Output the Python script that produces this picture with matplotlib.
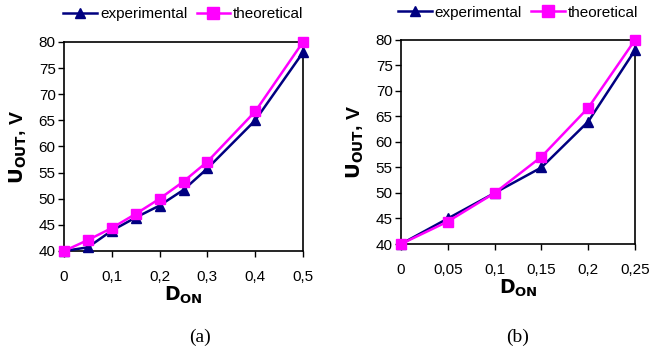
import matplotlib.pyplot as plt
import numpy as np

plt.rcParams['font.family'] = ['Liberation Sans', 'DejaVu Sans']

# (a)
d_a = [0, 0.05, 0.1, 0.15, 0.2, 0.25, 0.3, 0.4, 0.5]
exp_a = [40, 40.7, 43.9, 46.4, 48.7, 51.7, 55.8, 65, 78]
theo_a = [40, 42.1, 44.4, 47.1, 50, 53.3, 57.1, 66.7, 80]
xt_a = [0, 0.1, 0.2, 0.3, 0.4, 0.5]

# (b)
d_b = [0, 0.05, 0.1, 0.15, 0.2, 0.25]
exp_b = [40, 45, 50, 55, 64, 78]
theo_b = [40, 44.4, 50, 57.1, 66.7, 80]
xt_b = [0, 0.05, 0.1, 0.15, 0.2, 0.25]

yt = [40, 45, 50, 55, 60, 65, 70, 75, 80]

fig = plt.figure(figsize=(6.51, 3.49), dpi=100)
W, H = 651, 349
boxes = [(64, 42, 303, 251), (401, 40, 635, 244)]
sets = [(d_a, exp_a, theo_a, xt_a, '(a)', 200),
        (d_b, exp_b, theo_b, xt_b, '(b)', 518)]

def lab(v):
    s = ('%g' % v).replace('.', ',')
    return s

for (x0, y0, x1, y1), (d, e, t, xt, cap, cx) in zip(boxes, sets):
    ax = fig.add_axes([x0 / W, 1 - y1 / H, (x1 - x0) / W, (y1 - y0) / H])
    p1, = ax.plot(d, e, '-', color='#000080', lw=1.8, marker='^', ms=7,
                  label='experimental', clip_on=False, zorder=3)
    p2, = ax.plot(d, t, '-', color='#FF00FF', lw=1.8, marker='s', ms=7.5,
                  label='theoretical', clip_on=False, zorder=4)
    ax.set_xlim(d[0], d[-1])
    ax.set_ylim(40, 80)
    ax.set_xticks(xt)
    ax.set_xticklabels([lab(v) for v in xt])
    ax.set_yticks(yt)
    ax.tick_params(labelsize=11, length=4, width=1, direction='out', pad=2)
    ax.tick_params(axis='x', pad=10)
    for s in ax.spines.values():
        s.set_linewidth(1.2)
    ax.set_xlabel(r'$\mathbf{D_{ON}}$', fontsize=13.5, labelpad=0)
    ax.set_ylabel(r'$\mathbf{U_{OUT}}$, V', fontsize=14, fontweight='bold', labelpad=7)
    ax.legend(handles=[p1, p2], loc='lower center', bbox_to_anchor=(0.5, 1.07),
              ncol=2, frameon=False, fontsize=11, handlelength=2.2, markerscale=1.1,
              columnspacing=0.6, handletextpad=0.2, borderaxespad=0)
    fig.text(cx / W, 1 - 337 / H, cap, ha='center', va='center',
             fontsize=14, family='Liberation Serif')

fig.savefig('out.png', dpi=100)
